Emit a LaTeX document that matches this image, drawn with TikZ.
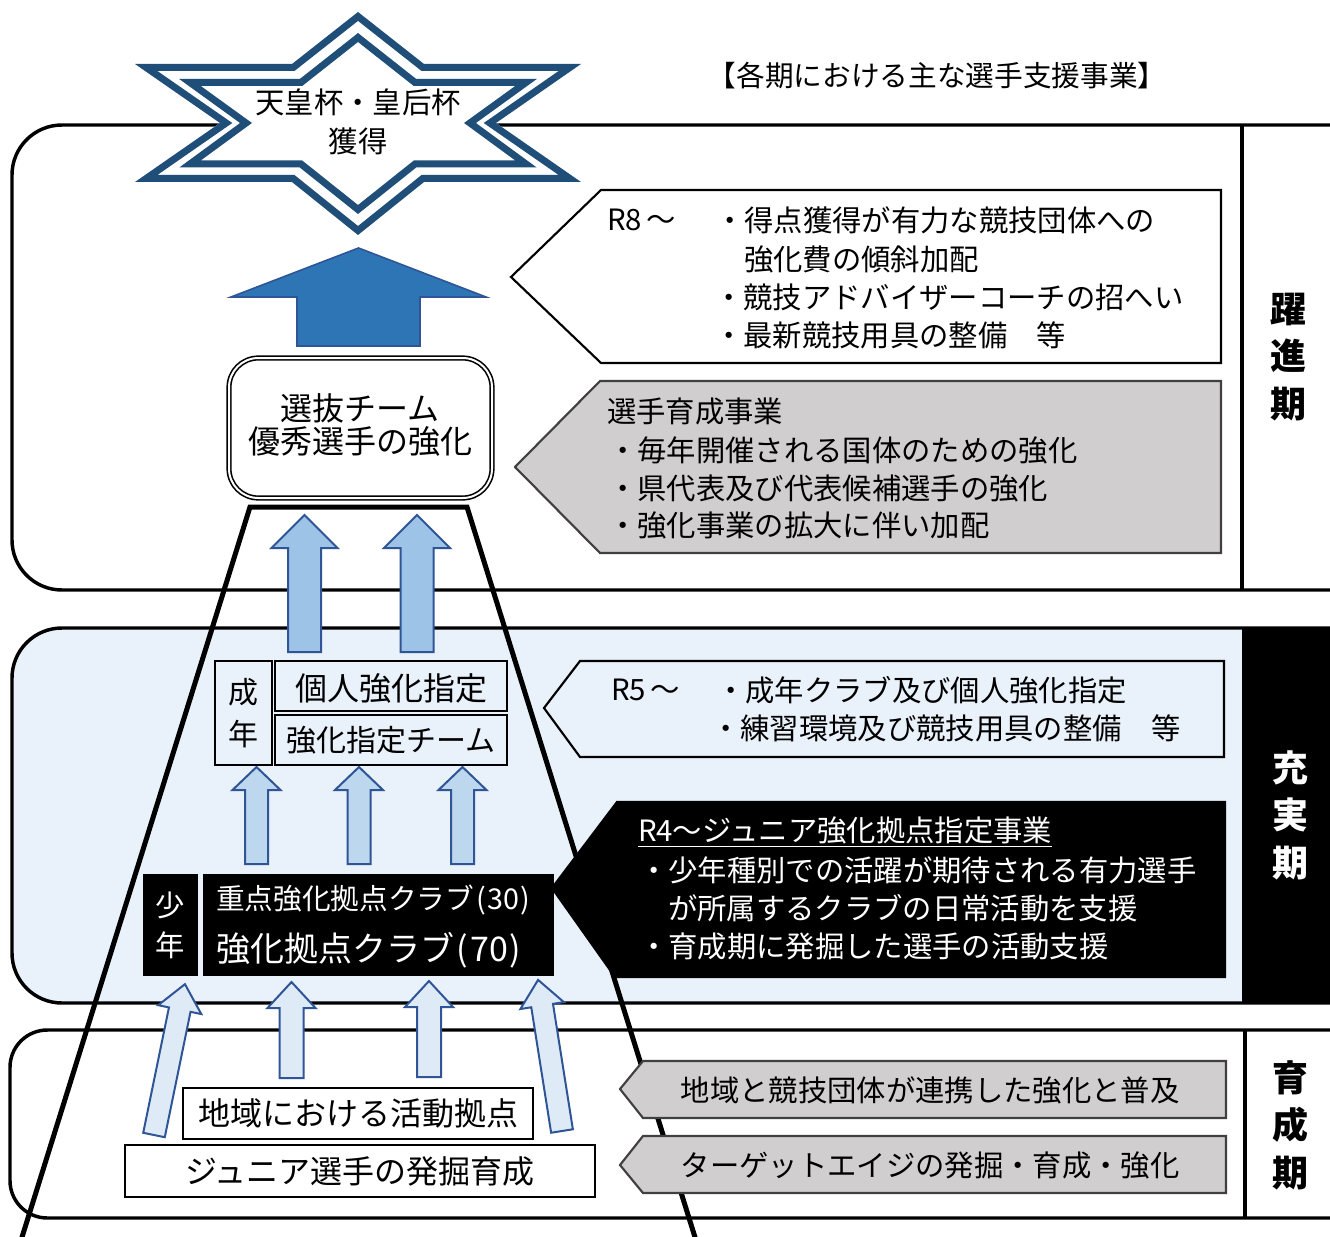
\documentclass[tikz,border=0pt]{standalone}
\usepackage{fontspec}
\setmainfont{Noto Sans CJK JP}
\definecolor{starblue}{RGB}{31,78,121}
\definecolor{bigblue}{RGB}{46,117,182}
\definecolor{edgeblue}{RGB}{47,85,151}
\definecolor{arrA}{RGB}{157,195,230}
\definecolor{arrB}{RGB}{189,215,238}
\definecolor{arrC}{RGB}{222,235,247}
\definecolor{regblue}{RGB}{233,241,250}
\definecolor{callgray}{RGB}{208,206,206}
\definecolor{calledge}{RGB}{64,64,64}
\newcommand\jfs[2]{\fontsize{#1}{#2}\selectfont}
\tikzset{
  txt/.style={inner sep=0pt, outer sep=0pt},
  regionbox/.style={draw=black, line width=2.6pt},
  callout/.style={draw=black, line width=1.6pt},
  plainbox/.style={draw=black, line width=2pt},
  pics/barrow/.style args={#1/#2/#3/#4}{code={
    \path[pic actions] (-#2,0) -- (-#2,#4-#1) -- (-#3,#4-#1) -- (0,-#1) -- (#3,#4-#1) -- (#2,#4-#1) -- (#2,0) -- cycle;
  }},
}
\begin{document}
\begin{tikzpicture}[x=0.75pt,y=-0.75pt,line join=miter]
\useasboundingbox (0,0) rectangle (1330,1237);
\clip (0,0) rectangle (1330,1237);

% ---------- regions ----------
\path[regionbox, fill=white, rounded corners=37.5pt] (12,125) rectangle (1400,590);
\draw[line width=2.6pt] (1242,125) -- (1242,590);
\path[regionbox, fill=regblue, rounded corners=37.5pt] (12,628) rectangle (1400,1003);
\fill[black] (1242,628) rectangle (1400,1003);
\path[regionbox, fill=white, rounded corners=28pt] (10,1030) rectangle (1400,1218);
\draw[line width=2.6pt] (1245,1030) -- (1245,1218);

% ---------- pyramid ----------
\draw[line width=3.75pt] (18,1250) -- (250,507) -- (467,507) -- (699,1250);

% ---------- callouts ----------
\path[callout, fill=white] (511,277) -- (601,190) -- (1221,190) -- (1221,363) -- (601,363) -- cycle;
\path[callout, draw=calledge, fill=callgray] (515,467) -- (600,381) -- (1221,381) -- (1221,553) -- (600,553) -- cycle;
\path[callout, fill=regblue] (544,708) -- (580,661) -- (1224,661) -- (1224,757) -- (580,757) -- cycle;
\path[callout, fill=black] (552,888) -- (617,802) -- (1225,802) -- (1225,977) -- (615,977) -- cycle;
\path[callout, draw=calledge, fill=callgray] (620,1089) -- (643,1061) -- (1226,1061) -- (1226,1118) -- (643,1118) -- cycle;
\path[callout, draw=calledge, fill=callgray] (620,1165) -- (643,1136) -- (1226,1136) -- (1226,1193) -- (643,1193) -- cycle;

% ---------- star ----------
\fill[white] (358,12) -- (424,64) -- (581,64) -- (496,123) -- (581,182) -- (424,182) -- (358,235) -- (292,182) -- (135,182) -- (220,123) -- (135,64) -- (292,64) -- cycle;
\begin{scope}
\clip (358,12) -- (424,64) -- (581,64) -- (496,123) -- (581,182) -- (424,182) -- (358,235) -- (292,182) -- (135,182) -- (220,123) -- (135,64) -- (292,64) -- cycle;
\draw[line width=10.5pt, starblue] (358,12) -- (424,64) -- (581,64) -- (496,123) -- (581,182) -- (424,182) -- (358,235) -- (292,182) -- (135,182) -- (220,123) -- (135,64) -- (292,64) -- cycle;
\end{scope}
\draw[line width=5.25pt, starblue] (358,37.5) -- (415,82.5) -- (526,82.5) -- (470,123) -- (526,164) -- (415,164) -- (358,209.5) -- (301,164) -- (190,164) -- (246,123) -- (190,82.5) -- (301,82.5) -- cycle;

% ---------- big arrow ----------
\pic[fill=bigblue, draw=edgeblue, line width=1.2pt] at (358.5,346) {barrow=98/61.5/127.5/49};

% ---------- selected team box ----------
\path[draw=black, double=white, line width=1.2pt, double distance=1.5pt, fill=white, rounded corners=22pt] (229,358) rectangle (492,498);

% ---------- arrows ----------
\pic[fill=arrA, draw=edgeblue, line width=1.5pt] at (304.5,652) {barrow=137/16.5/33/33};
\pic[fill=arrA, draw=edgeblue, line width=1.5pt] at (417,652) {barrow=137/16.5/33/33};
\pic[fill=arrB, draw=edgeblue, line width=1.5pt] at (256.5,864) {barrow=97/11.5/24/23};
\pic[fill=arrB, draw=edgeblue, line width=1.5pt] at (359,864) {barrow=97/11.5/24/23};
\pic[fill=arrB, draw=edgeblue, line width=1.5pt] at (462.5,864) {barrow=97/11.5/24/23};
\pic[fill=arrC, draw=edgeblue, line width=1.5pt, rotate=-11.6] at (154,1135) {barrow=154/11/22/26};
\pic[fill=arrC, draw=edgeblue, line width=1.5pt] at (291.5,1078) {barrow=96/12/24/26};
\pic[fill=arrC, draw=edgeblue, line width=1.5pt] at (429,1077) {barrow=96/12/24/26};
\pic[fill=arrC, draw=edgeblue, line width=1.5pt, rotate=9] at (562,1131) {barrow=153/11/22/26};

% ---------- boxes ----------
\path[plainbox, fill=regblue] (215,661) rectangle (272,765);
\path[plainbox, line width=1.6pt, fill=regblue] (275,661) rectangle (507,711);
\path[plainbox, line width=1.6pt, fill=regblue] (275,715) rectangle (507,765);
\fill[black] (143,874) rectangle (198,976);
\fill[black] (203,874) rectangle (554,976);
\path[plainbox, fill=white] (183,1088) rectangle (533,1139);
\path[plainbox, fill=white] (125,1145) rectangle (595,1197);

% ---------- texts ----------
\node[txt, font=\jfs{21.5}{25}] (title) at (937,76) {【各期における主な選手支援事業】};
\node[txt, align=center, font=\jfs{22}{29}] (startxt) at (358,122) {天皇杯・皇后杯\\獲得};
\node[txt, align=center, font=\jfs{24}{25}] (teamtxt) at (360,425) {選抜チーム\\優秀選手の強化};

\node[txt, anchor=west, font=\jfs{22}{26}] (r8) at (607,220) {R8\,～};
\node[txt, anchor=west, font=\jfs{22}{26}] (r8a) at (715,220) {・得点獲得が有力な競技団体への};
\node[txt, anchor=west, font=\jfs{22}{26}] (r8b) at (744,259) {強化費の傾斜加配};
\node[txt, anchor=west, font=\jfs{22}{26}] (r8c) at (714,297) {・競技アドバイザーコーチの招へい};
\node[txt, anchor=west, font=\jfs{22}{26}] (r8d) at (714,335) {・最新競技用具の整備　等};

\node[txt, anchor=west, font=\jfs{22}{26}] (ik) at (607,411) {選手育成事業};
\node[txt, anchor=west, font=\jfs{22}{26}] (ika) at (608,450) {・毎年開催される国体のための強化};
\node[txt, anchor=west, font=\jfs{22}{26}] (ikb) at (608,488) {・県代表及び代表候補選手の強化};
\node[txt, anchor=west, font=\jfs{22}{26}] (ikc) at (608,525) {・強化事業の拡大に伴い加配};

\node[txt, anchor=west, font=\jfs{22}{26}] (r5) at (611,690) {R5\,～};
\node[txt, anchor=west, font=\jfs{22}{26}] (r5a) at (716,690) {・成年クラブ及び個人強化指定};
\node[txt, anchor=west, font=\jfs{22}{26}] (r5b) at (711,728) {・練習環境及び競技用具の整備　等};

\node[txt, anchor=west, text=white, font=\jfs{22}{26}] (r4) at (638,832) {\underline{R4～ジュニア強化拠点指定事業}};
\node[txt, anchor=west, text=white, font=\jfs{22}{26}] (r4a) at (639,870) {・少年種別での活躍が期待される有力選手};
\node[txt, anchor=west, text=white, font=\jfs{22}{26}] (r4b) at (668,908) {が所属するクラブの日常活動を支援};
\node[txt, anchor=west, text=white, font=\jfs{22}{26}] (r4c) at (639,946) {・育成期に発掘した選手の活動支援};

\node[txt, font=\jfs{22}{26}] (ca) at (930,1090) {地域と競技団体が連携した強化と普及};
\node[txt, font=\jfs{22}{26}] (cb) at (930,1165) {ターゲットエイジの発掘・育成・強化};

\node[txt, align=center, font=\jfs{22.5}{31}] (seinen) at (243,713) {成\\年};
\node[txt, font=\jfs{24}{26}] (kojin) at (391,688) {個人強化指定};
\node[txt, font=\jfs{22.5}{26}] (kteam) at (391,740) {強化指定チーム};

\node[txt, align=center, text=white, font=\jfs{22}{30}] (shonen) at (170,925) {少\\年};
\node[txt, anchor=west, text=white, font=\jfs{21.5}{26}] (jclub) at (216,900) {重点強化拠点クラブ\kern2pt(\kern1pt30\kern1pt)};
\node[txt, anchor=west, text=white, font=\jfs{25.5}{28}] (kclub) at (216,950) {強化拠点クラブ\kern2pt(\kern1.5pt70\kern1.5pt)};

\node[txt, font=\jfs{24}{26}] (chiiki) at (358,1113) {地域における活動拠点};
\node[txt, font=\jfs{24}{26}] (junior) at (360,1171) {ジュニア選手の発掘育成};

\node[txt, align=center, font=\bfseries\jfs{27}{35.6}] (yakushin) at (1288,357) {躍\\進\\期};
\node[txt, align=center, text=white, font=\bfseries\jfs{27}{35.6}] (jujitsu) at (1290,815) {充\\実\\期};
\node[txt, align=center, font=\bfseries\jfs{27}{35.6}] (ikusei) at (1290,1125) {育\\成\\期};
\end{tikzpicture}
\end{document}
